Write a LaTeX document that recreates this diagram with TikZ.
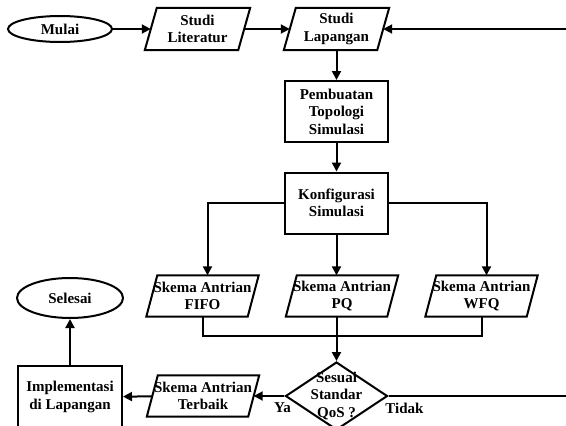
\documentclass[tikz,border=0pt]{standalone}
\usepackage{fontspec}
\setmainfont{Liberation Serif}
\usetikzlibrary{arrows.meta,shapes.geometric}
\begin{document}
\begin{tikzpicture}[x=1pt,y=-1pt,
  every node/.style={font=\bfseries\fontsize{15}{17.5}\selectfont, align=center, inner sep=0pt},
  flow/.style={line width=2pt},
  arr/.style={flow,-{Triangle[length=9pt,width=9pt]}},
  terminal/.style={ellipse, draw, line width=2pt},
  process/.style={rectangle, draw, line width=2pt, minimum width=103pt, minimum height=61pt},
  io/.style={rectangle, draw=none, minimum width=#1, minimum height=41pt},
  decision/.style={diamond, draw, line width=2pt, minimum width=102pt, minimum height=68pt}]
\useasboundingbox (0,0) rectangle (566,426);
\clip (0,0) rectangle (566,426);

% terminals
\node[terminal, minimum width=104pt, minimum height=26pt] (mulai) at (60,29) {Mulai};
\node[terminal, minimum width=106pt, minimum height=40pt] (selesai) at (70,298) {Selesai};

% input/output steps (parallelograms drawn below)
\node[io=93pt, minimum height=42pt] (lit) at (197.5,29) {Studi\\Literatur};
\node[io=93pt, minimum height=42pt] (lap) at (336.5,29) {Studi\\Lapangan};
\node[io=101pt] (fifo) at (202.5,296) {Skema Antrian\\FIFO};
\node[io=101pt] (pq) at (342,296) {Skema Antrian\\PQ};
\node[io=101pt] (wfq) at (481.5,296) {Skema Antrian\\WFQ};
\node[io=101pt] (best) at (203,396) {Skema Antrian\\Terbaik};

\foreach \n/\s in {lit/6,lap/6,fifo/5.5,pq/5.5,wfq/5.5,best/5.5}
  \draw[flow, line join=miter] ([xshift=\s pt]\n.north west) -- ([xshift=\s pt]\n.north east)
    -- ([xshift=-\s pt]\n.south east) -- ([xshift=-\s pt]\n.south west) -- cycle;

% processes
\node[process] (topo) at (336.5,111.5) {Pembuatan\\Topologi\\Simulasi};
\node[process] (konf) at (336.5,203) {Konfigurasi\\Simulasi};
\node[process, minimum width=104pt, minimum height=62pt] (impl) at (70,397) {Implementasi\\di Lapangan};

% decision
\node[decision, label=center:{Sesuai\\Standar\\QoS ?}] (dec) at (336.5,396) {};

% branch labels
\node (ya) at (282.5,408) {Ya};
\node (tidak) at (404.5,408) {Tidak};

% connectors
\coordinate (merge) at (336.5,336);
\coordinate (loopR) at (585,396);

\draw[arr] (mulai) -- (lit);
\draw[arr] (lit) -- (lap);
\draw[arr] (lap) -- (topo);
\draw[arr] (topo) -- (konf);
\draw[arr] (konf.west) -| ([xshift=5pt]fifo.north);
\draw[arr] (konf) -- (konf.south |- pq.north);
\draw[arr] (konf.east) -| ([xshift=5pt]wfq.north);
\draw[flow] (fifo.south) |- (merge);
\draw[flow] (wfq.south) |- (merge);
\draw[flow] (merge |- pq.south) -- (merge);
\draw[arr] (merge) -- (dec);
\draw[arr] (dec) -- (best);
\draw[arr] (best) -- (impl);
\draw[arr] (impl) -- (selesai);
\draw[arr] (dec.east) -- (loopR) |- (lap.east);
\end{tikzpicture}
\end{document}
